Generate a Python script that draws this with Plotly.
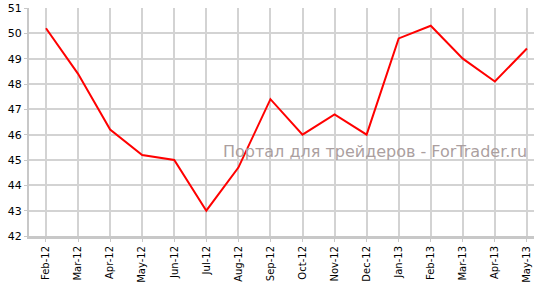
import plotly.graph_objects as go

months = ["Feb-12", "Mar-12", "Apr-12", "May-12", "Jun-12", "Jul-12", "Aug-12", "Sep-12",
          "Oct-12", "Nov-12", "Dec-12", "Jan-13", "Feb-13", "Mar-13", "Apr-13", "May-13"]
values = [50.2, 48.4, 46.2, 45.2, 45.0, 43.0, 44.7, 47.4,
          46.0, 46.8, 46.0, 49.8, 50.3, 49.0, 48.1, 49.4]
y_ticks = [42, 43, 44, 45, 46, 47, 48, 49, 50, 51]
watermark = "Портал для трейдеров - ForTrader.ru"

fig = go.Figure()
fig.add_trace(go.Scatter(x=list(range(len(months))), y=values, mode="lines",
                         line=dict(color="#ff0000", width=2), hoverinfo="skip"))

fig.add_annotation(text=watermark, xref="paper", yref="paper", x=0.99, y=0.37,
                   xanchor="right", yanchor="middle", showarrow=False,
                   font=dict(family="DejaVu Sans", size=16, color="#ab9f9f"))

fig.update_layout(
    width=534, height=283,
    margin=dict(l=29, r=0, t=8, b=44),
    paper_bgcolor="white", plot_bgcolor="white",
    showlegend=False,
    font=dict(family="DejaVu Sans", color="#000000"),
    xaxis=dict(
        range=[-0.53, 15.22],
        tickmode="array", tickvals=list(range(len(months))), ticktext=months,
        tickangle=-90, tickfont=dict(size=10),
        showgrid=True, gridcolor="#d3d3d3", gridwidth=2,
        showline=True, linecolor="#c8c8c8", linewidth=3,
        ticks="outside", ticklen=3, tickcolor="#c8c8c8",
        zeroline=False,
    ),
    yaxis=dict(
        range=[42, 51],
        tickmode="array", tickvals=y_ticks,
        tickfont=dict(size=11),
        showgrid=True, gridcolor="#d3d3d3", gridwidth=1.5,
        showline=True, linecolor="#c8c8c8", linewidth=2,
        ticks="outside", ticklen=3, tickcolor="#c8c8c8",
        zeroline=False,
    ),
)

fig.write_html("out.html")
